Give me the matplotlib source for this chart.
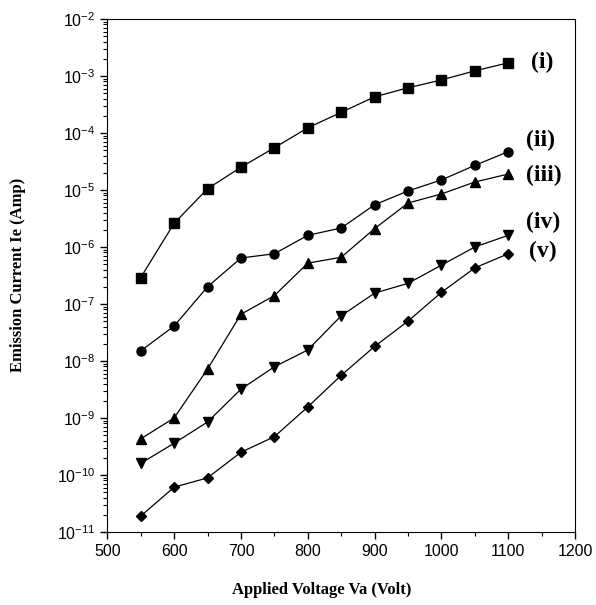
import matplotlib
matplotlib.use("Agg")
import matplotlib.pyplot as plt
from matplotlib.ticker import LogLocator, MultipleLocator, NullFormatter

# Dados
voltage = [550, 600, 650, 700, 750, 800, 850, 900, 950, 1000, 1050, 1100]
curr_i = [2.9e-7, 2.6e-6, 1.05e-5, 2.5e-5, 5.5e-5, 1.23e-4, 2.3e-4, 4.3e-4, 6.2e-4, 8.5e-4, 1.23e-3, 1.7e-3]
curr_ii = [1.5e-8, 4.1e-8, 2.0e-7, 6.4e-7, 7.6e-7, 1.6e-6, 2.15e-6, 5.5e-6, 9.6e-6, 1.5e-5, 2.7e-5, 4.7e-5]
curr_iii = [4.3e-10, 1.0e-9, 7.2e-9, 6.6e-8, 1.4e-7, 5.2e-7, 6.6e-7, 2.1e-6, 5.9e-6, 8.5e-6, 1.38e-5, 1.9e-5]
curr_iv = [1.6e-10, 3.6e-10, 8.5e-10, 3.2e-9, 7.9e-9, 1.56e-8, 6.2e-8, 1.55e-7, 2.3e-7, 4.8e-7, 1.0e-6, 1.6e-6]
curr_v = [1.9e-11, 6.1e-11, 8.9e-11, 2.5e-10, 4.7e-10, 1.56e-9, 5.6e-9, 1.8e-8, 5.0e-8, 1.6e-7, 4.3e-7, 7.6e-7]

labels = ['(i)', '(ii)', '(iii)', '(iv)', '(v)']
label_x = [1134, 1127, 1127, 1127, 1131]
label_y = [1.7e-3, 7.5e-5, 1.8e-5, 2.7e-6, 8.2e-7]
markers = ['s', 'o', '^', 'v', 'D']
series = [curr_i, curr_ii, curr_iii, curr_iv, curr_v]

fig = plt.figure(figsize=(5.96, 6.05), dpi=100)
ax = fig.add_axes([0.18, 0.1207, 0.785, 0.848])

for y, m in zip(series, markers):
    ms = 5.5 if m == 'D' else 6.5
    ax.plot(voltage, y, color='black', lw=0.9, marker=m, ms=ms)

for lab, lx, ly in zip(labels, label_x, label_y):
    ax.text(lx, ly, lab, fontsize=17, fontweight='bold', family='Liberation Serif',
            va='center', ha='left')

ax.set_yscale('log')
ax.set_xlim(500, 1200)
ax.set_ylim(1e-11, 1e-2)
ax.xaxis.set_major_locator(MultipleLocator(100))
ax.xaxis.set_minor_locator(MultipleLocator(50))
ax.yaxis.set_major_locator(LogLocator(base=10, numticks=20))
ax.yaxis.set_minor_locator(LogLocator(base=10, subs=range(2, 10), numticks=100))
ax.yaxis.set_minor_formatter(NullFormatter())
ax.tick_params(axis='both', which='both', direction='out', top=False, right=False)
ax.tick_params(which='major', length=5, width=1, labelsize=11.5)
ax.tick_params(which='minor', length=3, width=0.8)
for lbl in ax.get_xticklabels() + ax.get_yticklabels():
    lbl.set_family('Liberation Sans')

# rótulos dos eixos posicionados na figura
fig.text(0.54, 0.025, 'Applied Voltage Va (Volt)', fontsize=12, fontweight='bold',
         family='Liberation Serif', ha='center', va='center')
fig.text(0.03, 0.545, 'Emission Current Ie (Amp)', fontsize=12, fontweight='bold',
         family='Liberation Serif', ha='center', va='center', rotation=90)

fig.savefig('out.png', dpi=100)
